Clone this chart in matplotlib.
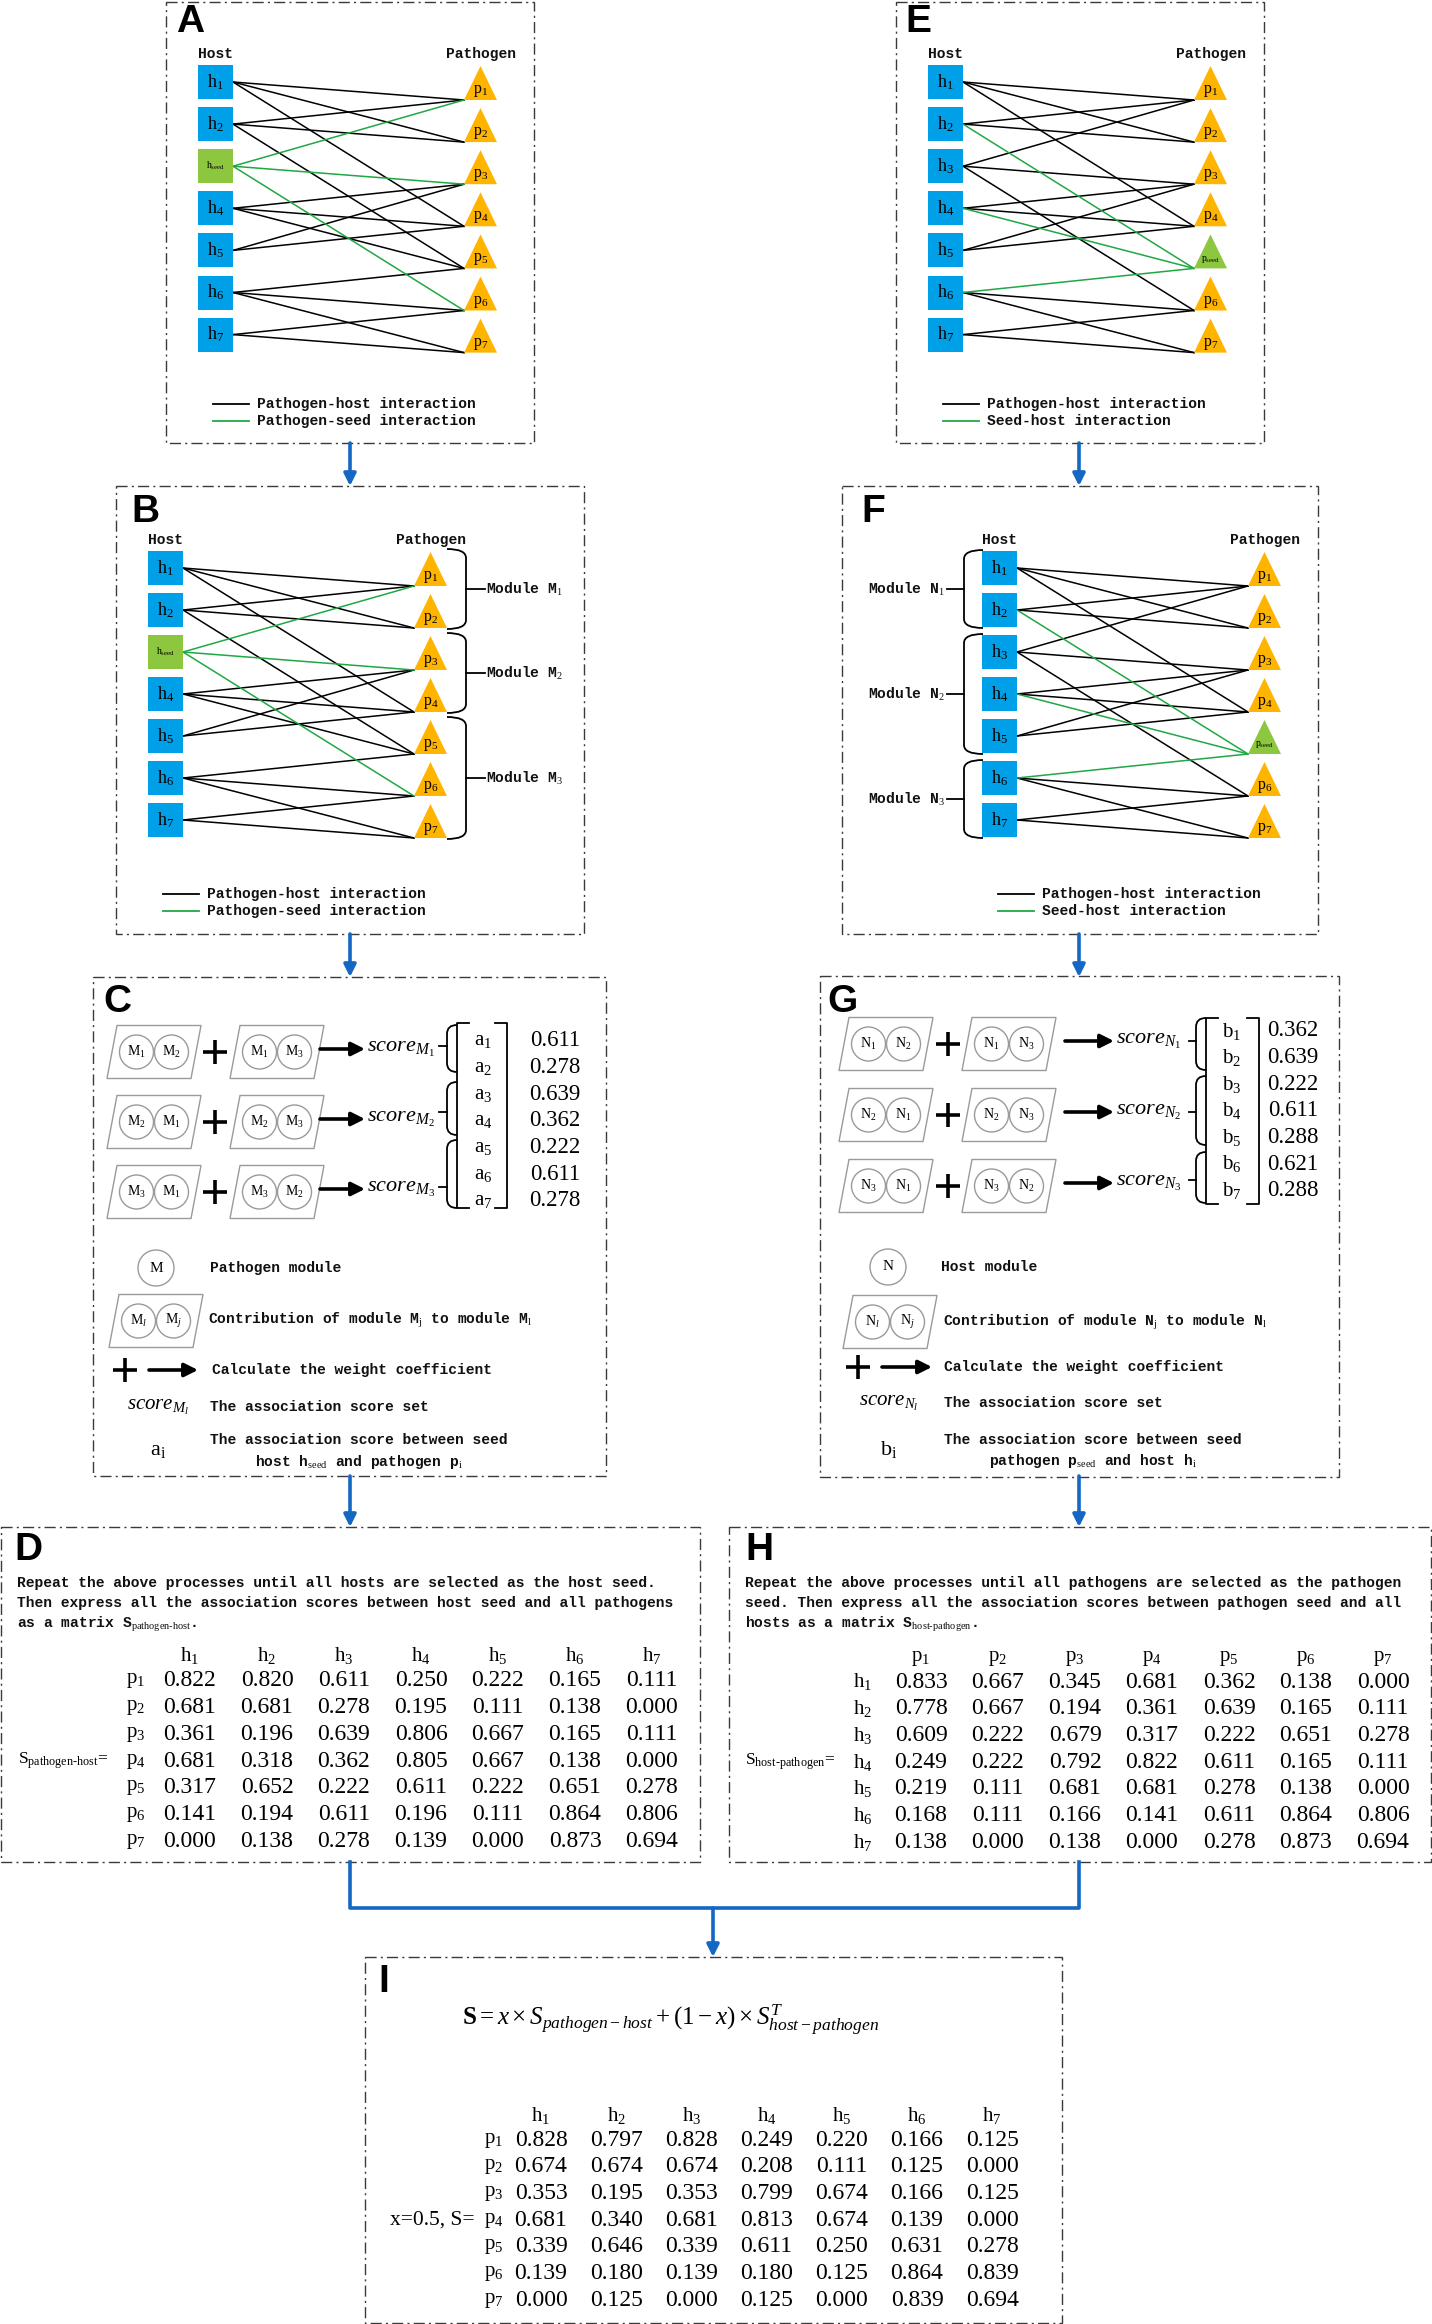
import matplotlib.pyplot as plt
from matplotlib.patches import Rectangle, Polygon, Circle, PathPatch, FancyArrowPatch
from matplotlib.path import Path

plt.rcParams['mathtext.fontset'] = 'custom'
plt.rcParams['mathtext.rm'] = 'Liberation Serif'
plt.rcParams['mathtext.it'] = 'Liberation Serif:italic'
plt.rcParams['mathtext.bf'] = 'Liberation Serif:bold'
plt.rcParams['mathtext.tt'] = 'Liberation Mono'

MONO = 'Liberation Mono'
SERIF = 'Liberation Serif'
BLUE = '#00A0E9'
ORANGE = '#FFB400'
SEED = '#8DC63F'
GREEN = '#1FA843'
ARROW = '#1467C2'
GRAY = '#9a9a9a'

# ---- data ----
hosts_a = ['1', '2', 'seed', '4', '5', '6', '7']
paths_a = ['1', '2', '3', '4', '5', '6', '7']
edges_a_black = [(0, 0), (0, 1), (0, 3), (1, 0), (1, 1), (1, 4), (3, 2), (3, 3),
                 (3, 4), (4, 2), (4, 3), (5, 4), (5, 5), (5, 6), (6, 5), (6, 6)]
edges_a_green = [(2, 0), (2, 2), (2, 5)]

hosts_e = ['1', '2', '3', '4', '5', '6', '7']
paths_e = ['1', '2', '3', '4', 'seed', '6', '7']
edges_e_black = [(0, 0), (0, 1), (0, 3), (1, 0), (1, 1), (2, 0), (2, 2), (2, 5),
                 (3, 2), (3, 3), (4, 2), (4, 3), (5, 5), (5, 6), (6, 5), (6, 6)]
edges_e_green = [(1, 4), (3, 4), (5, 4)]

pathogen_modules = [('M', [0, 1]), ('M', [2, 3]), ('M', [4, 5, 6])]
host_modules = [('N', [0, 1]), ('N', [2, 3, 4]), ('N', [5, 6])]
module_pairs = [('1', '2', '1', '3'), ('2', '1', '2', '3'), ('3', '1', '3', '2')]

a_scores = [0.611, 0.278, 0.639, 0.362, 0.222, 0.611, 0.278]
b_scores = [0.362, 0.639, 0.222, 0.611, 0.288, 0.621, 0.288]

S_pathogen_host = [
    [0.822, 0.820, 0.611, 0.250, 0.222, 0.165, 0.111],
    [0.681, 0.681, 0.278, 0.195, 0.111, 0.138, 0.000],
    [0.361, 0.196, 0.639, 0.806, 0.667, 0.165, 0.111],
    [0.681, 0.318, 0.362, 0.805, 0.667, 0.138, 0.000],
    [0.317, 0.652, 0.222, 0.611, 0.222, 0.651, 0.278],
    [0.141, 0.194, 0.611, 0.196, 0.111, 0.864, 0.806],
    [0.000, 0.138, 0.278, 0.139, 0.000, 0.873, 0.694]]
S_host_pathogen = [
    [0.833, 0.667, 0.345, 0.681, 0.362, 0.138, 0.000],
    [0.778, 0.667, 0.194, 0.361, 0.639, 0.165, 0.111],
    [0.609, 0.222, 0.679, 0.317, 0.222, 0.651, 0.278],
    [0.249, 0.222, 0.792, 0.822, 0.611, 0.165, 0.111],
    [0.219, 0.111, 0.681, 0.681, 0.278, 0.138, 0.000],
    [0.168, 0.111, 0.166, 0.141, 0.611, 0.864, 0.806],
    [0.138, 0.000, 0.138, 0.000, 0.278, 0.873, 0.694]]
S_final = [
    [0.828, 0.797, 0.828, 0.249, 0.220, 0.166, 0.125],
    [0.674, 0.674, 0.674, 0.208, 0.111, 0.125, 0.000],
    [0.353, 0.195, 0.353, 0.799, 0.674, 0.166, 0.125],
    [0.681, 0.340, 0.681, 0.813, 0.674, 0.139, 0.000],
    [0.339, 0.646, 0.339, 0.611, 0.250, 0.631, 0.278],
    [0.139, 0.180, 0.139, 0.180, 0.125, 0.864, 0.839],
    [0.000, 0.125, 0.000, 0.125, 0.000, 0.839, 0.694]]
h_labels = ['h$_{%d}$' % i for i in range(1, 8)]
p_labels = ['p$_{%d}$' % i for i in range(1, 8)]

fig = plt.figure(figsize=(14.32, 23.24), dpi=100)
ax = fig.add_axes([0, 0, 1, 1])
ax.set_xlim(0, 1432)
ax.set_ylim(2324, 0)
ax.axis('off')


def box(x0, y0, x1, y1, letter, lx, ly):
    ax.add_patch(Rectangle((x0, y0), x1 - x0, y1 - y0, fc='none', ec='#3a3a3a',
                           lw=1.0, ls=(0, (8, 3, 1.5, 3)), zorder=1))
    ax.text(lx, ly, letter, family='Liberation Sans', weight='bold', fontsize=28,
            ha='left', va='center')


def mono(x, y, s, ha='left', fs=10.5):
    ax.text(x, y, s, family=MONO, weight='bold', fontsize=fs, ha=ha, va='center',
            color='#111111')


def network(hx, px, top, step, hosts, paths, black, green):
    hy = [top + step * i + 17 for i in range(7)]
    py = [top + step * j + 35 for j in range(7)]
    for edges, col in ((black, 'black'), (green, GREEN)):
        for i, j in edges:
            ax.plot([hx + 35, px], [hy[i], py[j]], color=col, lw=1.1, zorder=2)
    for i, name in enumerate(hosts):
        seed = name == 'seed'
        ax.add_patch(Rectangle((hx, top + step * i), 35, 34, fc=SEED if seed else BLUE,
                               ec='none', zorder=3))
        lab = r'h$_{\rm seed}$' if seed else 'h$_{%s}$' % name
        ax.text(hx + 17.5, hy[i], lab, family=SERIF, fontsize=7 if seed else 13,
                ha='center', va='center', zorder=4)
    for j, name in enumerate(paths):
        seed = name == 'seed'
        ax.add_patch(Polygon([(px, py[j]), (px + 33, py[j]), (px + 16.5, py[j] - 34)],
                             closed=True, fc=SEED if seed else ORANGE, ec='none', zorder=3))
        lab = r'p$_{\rm seed}$' if seed else 'p$_{%s}$' % name
        ax.text(px + 16.5, py[j] - 9, lab, family=SERIF, fontsize=7 if seed else 11.5,
                ha='center', va='center', zorder=4)
    mono(hx + 17.5, top - 11, 'Host', ha='center')
    mono(px + 17, top - 11, 'Pathogen', ha='center')
    return hy, py


def legend(x, y, second):
    ax.plot([x, x + 36], [y, y], color='black', lw=1.3)
    ax.plot([x, x + 36], [y + 17, y + 17], color=GREEN, lw=1.3)
    mono(x + 44, y, 'Pathogen-host interaction')
    mono(x + 44, y + 17, second)


def brace(x_open, x_spine, y0, y1, ym, x_tick, r=9):
    verts = [(x_open, y0), (x_spine, y0), (x_spine, y0 + r), (x_spine, y1 - r),
             (x_spine, y1), (x_open, y1)]
    codes = [Path.MOVETO, Path.CURVE3, Path.CURVE3, Path.LINETO, Path.CURVE3, Path.CURVE3]
    ax.add_patch(PathPatch(Path(verts, codes), fc='none', ec='black', lw=1.3))
    ax.plot([x_spine, x_tick], [ym, ym], color='black', lw=1.3)


def pair_box(x0, yc, letter, left, right, w=84, h=53, slant=10):
    pts = [(x0, yc + h / 2), (x0 + w, yc + h / 2), (x0 + w + slant, yc - h / 2),
           (x0 + slant, yc - h / 2)]
    ax.add_patch(Polygon(pts, closed=True, fc='none', ec=GRAY, lw=1.0))
    cx = x0 + (w + slant) / 2
    for dx, lab in ((-17.5, left), (17.5, right)):
        ax.add_patch(Circle((cx + dx, yc), 17, fc='none', ec=GRAY, lw=1.0))
        ax.text(cx + dx, yc, '%s$_{%s}$' % (letter, lab), family=SERIF, fontsize=10,
                ha='center', va='center')


def plus(xc, yc, s=12):
    ax.plot([xc - s, xc + s], [yc, yc], color='black', lw=2.6, solid_capstyle='butt')
    ax.plot([xc, xc], [yc - s, yc + s], color='black', lw=2.6, solid_capstyle='butt')


def arrow(x0, y0, x1, y1, col='black', lw=2.6, ms=20):
    ax.add_patch(FancyArrowPatch((x0, y0), (x1, y1), arrowstyle='-|>', mutation_scale=ms,
                                 lw=lw, color=col, shrinkA=0, shrinkB=0, zorder=5))


def score_panel(letter, x_par1, x_par2, x_plus, x_arr0, x_arr1, rows_y, scores,
                sym, mat_left, mat_right, mat_top, mat_bot, lab_x, val_x, lab_y0,
                brace_rows, tick_x):
    for k, (a, b, c, d) in enumerate(module_pairs):
        y = rows_y[k]
        pair_box(x_par1, y, letter, a, b)
        plus(x_plus, y)
        pair_box(x_par2, y, letter, c, d)
        arrow(x_arr0, y - 3, x_arr1, y - 3)
        ax.text(x_arr1 + 2, y - 3, r'$score_{%s_%s}$' % (letter, a), fontsize=16,
                ha='left', va='center')
    # matrix brackets
    ax.plot([mat_left + 12, mat_left, mat_left, mat_left + 12],
            [mat_top, mat_top, mat_bot, mat_bot], color='black', lw=1.3)
    ax.plot([mat_right - 12, mat_right, mat_right, mat_right - 12],
            [mat_top, mat_top, mat_bot, mat_bot], color='black', lw=1.3)
    for i, v in enumerate(scores):
        y = lab_y0 + i * 26.6
        ax.text(lab_x, y, '%s$_{%d}$' % (sym, i + 1), family=SERIF, fontsize=15,
                ha='center', va='center')
        ax.text(val_x, y, '%.3f' % v, family=SERIF, fontsize=16.5, ha='center', va='center')
    for (y0, y1, ym) in brace_rows:
        brace(mat_left, mat_left - 10, y0, y1, ym, tick_x)


def matrix(col_x0, col_step, head_y, row_y0, row_x, cols, rows, values):
    for k, lab in enumerate(cols):
        ax.text(col_x0 + k * col_step, head_y, lab, family=SERIF, fontsize=15,
                ha='center', va='center')
    for r, lab in enumerate(rows):
        y = row_y0 + r * 26.67
        ax.text(row_x, y, lab, family=SERIF, fontsize=15, ha='center', va='center')
        for k, v in enumerate(values[r]):
            ax.text(col_x0 + k * col_step, y, '%.3f' % v, family=SERIF, fontsize=17,
                    ha='center', va='center')


# ---- A ----
box(166, 1.5, 534, 443, 'A', 176, 22)
network(198, 464, 65, 42.1, hosts_a, paths_a, edges_a_black, edges_a_green)
legend(213, 404, 'Pathogen-seed interaction')

# ---- E ----
box(896, 1.5, 1264, 443, 'E', 905, 22)
network(928, 1194, 65, 42.1, hosts_e, paths_e, edges_e_black, edges_e_green)
legend(943, 404, 'Seed-host interaction')

# ---- B ----
box(116, 486, 584, 934, 'B', 131, 512)
hy, py = network(148, 414, 551, 42, hosts_a, paths_a, edges_a_black, edges_a_green)
for k, (name, idx) in enumerate(pathogen_modules):
    y0 = py[idx[0]] - 37
    y1 = py[idx[-1]] + 1
    brace(447, 466, y0, y1, (y0 + y1) / 2, 485)
    mono(486, (y0 + y1) / 2, 'Module %s$_{%d}$' % (name, k + 1))
legend(163, 894, 'Pathogen-seed interaction')

# ---- F ----
box(842, 486, 1318, 934, 'F', 861, 512)
hy, py = network(982, 1248, 551, 42, hosts_e, paths_e, edges_e_black, edges_e_green)
for k, (name, idx) in enumerate(host_modules):
    y0 = hy[idx[0]] - 18
    y1 = hy[idx[-1]] + 18
    brace(983, 964, y0, y1, (y0 + y1) / 2, 947)
    mono(945, (y0 + y1) / 2, 'Module %s$_{%d}$' % (name, k + 1), ha='right')
legend(998, 894, 'Seed-host interaction')

# ---- C ----
box(93, 977, 606, 1476, 'C', 103, 1002)
score_panel('M', 107, 230, 215, 320, 365, [1052, 1122, 1192], a_scores, 'a',
            457, 507, 1023, 1208, 483, 555, 1041,
            [(1025, 1072, 1046), (1082, 1135, 1112), (1140, 1208, 1187)], 439)
ax.add_patch(Circle((156, 1268), 18, fc='none', ec=GRAY, lw=1.0))
ax.text(156, 1268, 'M', family=SERIF, fontsize=11, ha='center', va='center')
mono(210, 1268, 'Pathogen module')
pair_box(109, 1321, 'M', 'l', 'j')
mono(208, 1321, 'Contribution of module M$_{\\rm j}$ to module M$_{\\rm l}$')
plus(125, 1370)
arrow(149, 1370, 198, 1370)
mono(212, 1370, 'Calculate the weight coefficient')
ax.text(158, 1407, r'$score_{M_l}$', fontsize=15, ha='center', va='center')
mono(210, 1407, 'The association score set')
ax.text(158, 1450, r'a$_{\rm i}$', family=SERIF, fontsize=16, ha='center', va='center')
mono(359, 1440, 'The association score between seed', ha='center')
mono(359, 1462, r'host h$_{\rm seed}$ and pathogen p$_{\rm i}$', ha='center')

# ---- G ----
box(820, 976, 1339, 1477, 'G', 827, 1002)
score_panel('N', 839, 962, 948, 1065, 1114, [1044, 1115, 1186], b_scores, 'b',
            1206, 1259, 1018, 1204, 1232, 1293, 1031,
            [(1018, 1070, 1041), (1076, 1145, 1112), (1152, 1203, 1180)], 1189)
ax.add_patch(Circle((888, 1267), 18, fc='none', ec=GRAY, lw=1.0))
ax.text(888, 1267, 'N', family=SERIF, fontsize=11, ha='center', va='center')
mono(941, 1267, 'Host module')
pair_box(843, 1322, 'N', 'l', 'j')
mono(943, 1322, 'Contribution of module N$_{\\rm j}$ to module N$_{\\rm l}$')
plus(858, 1367)
arrow(882, 1367, 932, 1367)
mono(944, 1367, 'Calculate the weight coefficient')
ax.text(889, 1403, r'$score_{N_l}$', fontsize=15, ha='center', va='center')
mono(944, 1403, 'The association score set')
ax.text(889, 1450, r'b$_{\rm i}$', family=SERIF, fontsize=16, ha='center', va='center')
mono(1093, 1440, 'The association score between seed', ha='center')
mono(1093, 1461, r'pathogen p$_{\rm seed}$ and host h$_{\rm i}$', ha='center')

# ---- D ----
box(1, 1527, 700, 1862, 'D', 14, 1550)
mono(17, 1583, 'Repeat the above processes until all hosts are selected as the host seed.')
mono(17, 1603, 'Then express all the association scores between host seed and all pathogens')
mono(17, 1624, r'as a matrix S$_{\rm pathogen\text{-}host}$.')
matrix(190, 77, 1655, 1681, 136, h_labels, p_labels, S_pathogen_host)
ax.text(18, 1761, r'S$_{\rm pathogen\text{-}host}$=', family=SERIF, fontsize=12.5,
        ha='left', va='center')

# ---- H ----
box(729, 1527, 1431, 1862, 'H', 745, 1550)
mono(745, 1583, 'Repeat the above processes until all pathogens are selected as the pathogen')
mono(745, 1603, 'seed. Then express all the association scores between pathogen seed and all')
mono(745, 1624, r'hosts as a matrix S$_{\rm host\text{-}pathogen}$.')
matrix(921, 77, 1659, 1682, 863, p_labels, h_labels, S_host_pathogen)
ax.text(745, 1762, r'S$_{\rm host\text{-}pathogen}$=', family=SERIF, fontsize=12.5,
        ha='left', va='center')

# ---- I ----
box(365, 1957, 1062, 2323, 'I', 378, 1982)
ax.text(462, 2020, r'$\mathbf{S} = x \times S_{pathogen-host} + (1-x) \times S^{T}_{host-pathogen}$',
        fontsize=18, ha='left', va='center')
matrix(541, 75.2, 2115, 2140, 494, h_labels, p_labels, S_final)
ax.text(390, 2220, 'x=0.5, S=', family=SERIF, fontsize=15.5, ha='left', va='center')

# ---- blue flow arrows ----
for x in (350, 1079):
    arrow(x, 443, x, 486, ARROW, 2.6, 18)
    arrow(x, 934, x, 977, ARROW, 2.6, 18)
    arrow(x, 1476, x, 1527, ARROW, 2.6, 18)
ax.plot([350, 350, 1079, 1079], [1862, 1908, 1908, 1862], color=ARROW, lw=2.6)
arrow(713, 1908, 713, 1957, ARROW, 2.6, 18)

fig.savefig('out.png', dpi=100)
